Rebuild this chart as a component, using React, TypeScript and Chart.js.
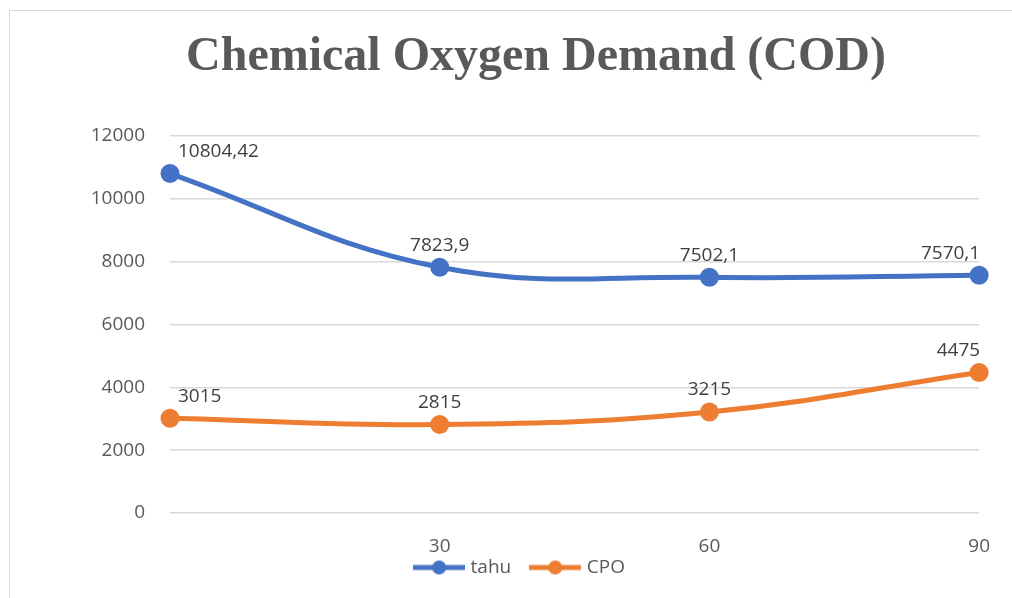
import React, { useEffect, useRef } from "react";
import { Chart, registerables } from "chart.js";

Chart.register(...registerables);

const titleText = "Chemical Oxygen Demand (COD)";
const categories = ["", "30", "60", "90"];
const tahuValues = [10804.42, 7823.9, 7502.1, 7570.1];
const cpoValues = [3015, 2815, 3215, 4475];
const tahuLabels = ["10804,42", "7823,9", "7502,1", "7570,1"];
const cpoLabels = ["3015", "2815", "3215", "4475"];
const yTicks = [0, 2000, 4000, 6000, 8000, 10000, 12000];

const BLUE = "#4472C4";
const ORANGE = "#ED7D31";
const FONT = "'Open Sans', 'Liberation Sans', sans-serif";

function legendIcon(color: string) {
  const c = document.createElement("canvas");
  c.width = 52;
  c.height = 16;
  const ctx = c.getContext("2d")!;
  ctx.strokeStyle = color;
  ctx.lineWidth = 5;
  ctx.beginPath();
  ctx.moveTo(0, 8);
  ctx.lineTo(52, 8);
  ctx.stroke();
  ctx.fillStyle = color;
  ctx.beginPath();
  ctx.arc(26, 8, 7, 0, Math.PI * 2);
  ctx.fill();
  return c;
}

const titlePlugin = {
  id: "customTitle",
  afterDraw(chart: any) {
    const ctx = chart.ctx;
    ctx.save();
    ctx.font = `bold 48px 'Liberation Serif', 'Times New Roman', serif`;
    ctx.fillStyle = "#595959";
    ctx.textAlign = "center";
    ctx.textBaseline = "middle";
    ctx.fillText(titleText, 536, 58);
    ctx.restore();
  },
};

const legendPlacePlugin = {
  id: "legendPlace",
  beforeLayout(chart: any) {
    const lg = chart.legend;
    if (lg && !lg._patched) {
      const orig = lg.fit;
      lg.fit = function () {
        orig.call(this);
        this.height = 30;
      };
      lg._patched = true;
    }
  },
  afterLayout(chart: any) {
    const lg = chart.legend;
    if (lg) {
      lg.top = 536;
      lg.bottom = 598;
      lg.height = 62;
      lg.left += 30;
      lg.right += 30;
    }
  },
};

const dataLabelPlugin = {
  id: "dataLabels",
  afterDatasetsDraw(chart: any) {
    const ctx = chart.ctx;
    const area = chart.chartArea;
    ctx.save();
    ctx.font = `19px ${FONT}`;
    ctx.fillStyle = "#404040";
    ctx.textBaseline = "middle";
    ctx.textAlign = "left";
    chart.data.datasets.forEach((ds: any, i: number) => {
      const meta = chart.getDatasetMeta(i);
      meta.data.forEach((pt: any, j: number) => {
        const text = ds.labelsText[j];
        const w = ctx.measureText(text).width;
        let left = pt.x - w / 2;
        if (left < area.left + 8) left = area.left + 8;
        if (left + w > area.right + 1) left = area.right + 1 - w;
        ctx.fillText(text, left, pt.y - 22);
      });
    });
    ctx.restore();
  },
};

export default function App() {
  const ref = useRef<HTMLCanvasElement>(null);

  useEffect(() => {
    document.body.style.margin = "0";
    const chart = new Chart(ref.current!, {
      type: "line",
      data: {
        labels: categories,
        datasets: [
          {
            label: "tahu",
            data: tahuValues,
            borderColor: BLUE,
            backgroundColor: BLUE,
            borderWidth: 5,
            pointRadius: 7,
            pointHoverRadius: 7,
            pointBackgroundColor: BLUE,
            pointBorderColor: BLUE,
            tension: 0.4,
            labelsText: tahuLabels,
          } as any,
          {
            label: "CPO",
            data: cpoValues,
            borderColor: ORANGE,
            backgroundColor: ORANGE,
            borderWidth: 5,
            pointRadius: 7,
            pointHoverRadius: 7,
            pointBackgroundColor: ORANGE,
            pointBorderColor: ORANGE,
            tension: 0.4,
            labelsText: cpoLabels,
          } as any,
        ],
      },
      options: {
        animation: false,
        responsive: false,
        layout: { padding: { left: 0, right: 30, top: 136, bottom: 9 } },
        plugins: {
          title: { display: false },
          legend: {
            position: "bottom",
            labels: {
              usePointStyle: true,
              pointStyleWidth: 44,
              boxHeight: 16,
              color: "#595959",
              font: { family: FONT, size: 19 },
              padding: 22,
              generateLabels: (chart: any) =>
                chart.data.datasets.map((ds: any, i: number) => ({
                  text: ds.label,
                  pointStyle: legendIcon(ds.borderColor),
                  fillStyle: ds.borderColor,
                  strokeStyle: ds.borderColor,
                  lineWidth: 0,
                  datasetIndex: i,
                  hidden: false,
                  fontColor: "#595959",
                })),
            },
          },
          tooltip: { enabled: false },
        },
        scales: {
          x: {
            offset: false,
            grid: { display: false, drawTicks: false },
            border: { display: false },
            afterFit: (scale: any) => {
              scale.height = 46;
            },
            ticks: {
              color: "#595959",
              font: { family: FONT, size: 19 },
              padding: 22,
              maxRotation: 0,
              autoSkip: false,
            },
          },
          y: {
            min: 0,
            max: 12000,
            afterBuildTicks: (scale: any) => {
              scale.ticks = yTicks.map((v) => ({ value: v }));
            },
            afterFit: (scale: any) => {
              scale.width = 170;
            },
            grid: { color: "#d9d9d9", lineWidth: 1.5, drawTicks: false },
            border: { display: false },
            ticks: {
              color: "#595959",
              font: { family: FONT, size: 19 },
              padding: 25,
              callback: (v: any) => String(v),
            },
          },
        },
      },
      plugins: [legendPlacePlugin, dataLabelPlugin, titlePlugin],
    });
    return () => chart.destroy();
  }, []);

  return (
    <div style={{ position: "relative", width: 1012, height: 598, background: "#fff" }}>
      <canvas ref={ref} width={1012} height={598} style={{ display: "block" }} />
      <div
        style={{
          position: "absolute",
          left: 9,
          top: 10,
          width: 1003,
          height: 588,
          borderTop: "1.5px solid #d9d9d9",
          borderLeft: "1.5px solid #d9d9d9",
          pointerEvents: "none",
        }}
      />
    </div>
  );
}
